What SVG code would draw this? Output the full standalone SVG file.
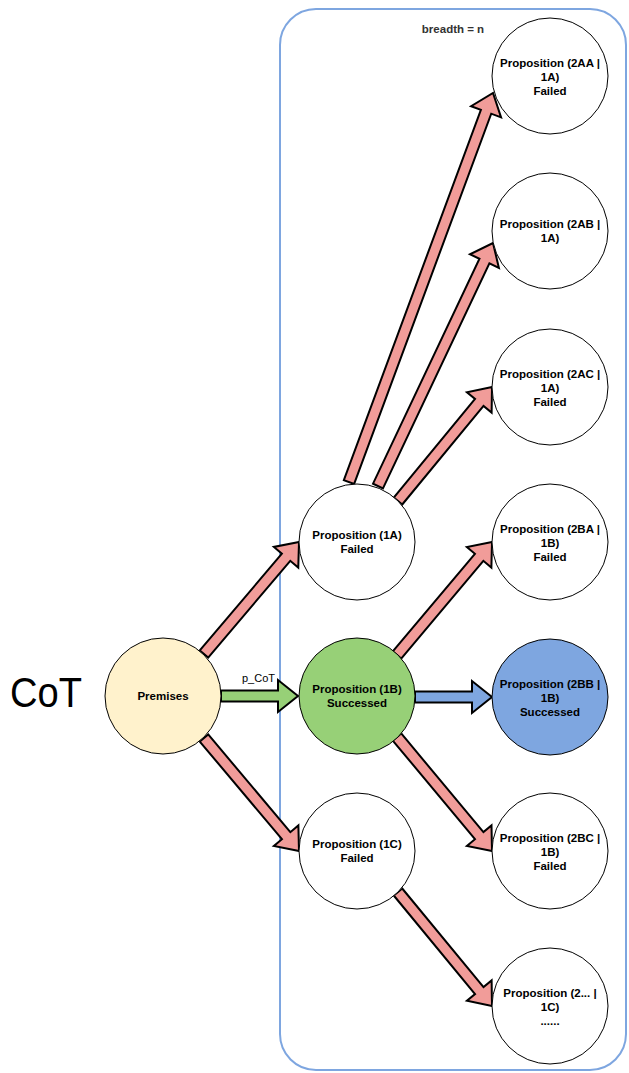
<svg xmlns="http://www.w3.org/2000/svg" width="629" height="1073" viewBox="0 0 629 1073">
  <style>
    .node { stroke: #000; stroke-width: 1; }
    .plain { fill: #ffffff; }
    .premise { fill: #fff2cc; }
    .ok { fill: #97d077; }
    .best { fill: #7ea6e0; }
    .label { font-family: "Liberation Sans", Arial, Helvetica, sans-serif; font-weight: bold; font-size: 11.5px; fill: #000; text-anchor: middle; }
    .arrow { stroke: #000; stroke-width: 2; stroke-linejoin: miter; }
    .fail { fill: #f19c99; }
    .pass { fill: #97d077; }
    .win { fill: #7ea6e0; }
  </style>

  <!-- search frame -->
  <g id="frame">
    <rect x="280" y="9" width="346" height="1061" rx="36" ry="36" fill="none" stroke="#7ea6e0" stroke-width="2"/>
    <text x="453" y="33" font-family="'Liberation Sans', Arial, sans-serif" font-weight="bold" font-size="11.5" fill="#333" text-anchor="middle">breadth = n</text>
  </g>

  <!-- title -->
  <text id="title" x="10" y="707" font-family="'Liberation Sans', Arial, sans-serif" font-size="42" fill="#000" textLength="72" lengthAdjust="spacingAndGlyphs">CoT</text>

  <!-- block arrows -->
  <g id="connectors">
    <polygon class="arrow pass" points="221,701.5 278,701.5 278,712 298,696 278,680 278,690.5 221,690.5"/>
    <text x="242" y="682" font-family="'Liberation Sans', Arial, sans-serif" font-size="11" fill="#000">p_CoT</text>
    <polygon class="arrow win" points="415,702.5 472,702.5 472,713 492,697 472,681 472,691.5 415,691.5"/>
    <polygon class="arrow fail" points="208.19,657.56 290.26,560.81 298.27,567.60 299,542 273.87,546.90 281.88,553.69 199.81,650.44"/>
    <polygon class="arrow fail" points="199.79,741.54 281.92,839.23 273.88,845.99 299,851 298.38,825.39 290.34,832.15 208.21,734.46"/>
    <polygon class="arrow fail" points="354.16,483.91 491.22,113.67 501.06,117.32 493,93 471.06,106.20 480.90,109.85 343.84,480.09"/>
    <polygon class="arrow fail" points="382.97,488.35 489.41,263.43 498.90,267.92 493,243 469.98,254.24 479.47,258.73 373.03,483.65"/>
    <polygon class="arrow fail" points="402.24,504.50 483.52,405.93 491.62,412.61 492,387 466.94,392.25 475.04,398.93 393.76,497.50"/>
    <polygon class="arrow fail" points="401.21,658.54 483.34,560.85 491.38,567.61 492,542 466.88,547.01 474.92,553.77 392.79,651.46"/>
    <polygon class="arrow fail" points="392.77,740.52 474.97,839.16 466.91,845.88 492,851 491.49,825.40 483.43,832.12 401.23,733.48"/>
    <polygon class="arrow fail" points="393.76,895.50 475.04,994.07 466.94,1000.75 492,1006 491.62,980.39 483.52,987.07 402.24,888.50"/>
  </g>

  <g id="premises">
    <circle class="node premise" cx="163" cy="696" r="58"/>
    <text class="label" x="163" y="700" font-size="9.5">Premises</text>
  </g>

  <g id="p1a">
    <circle class="node plain" cx="357" cy="542" r="58"/>
    <text class="label" x="357" y="539">Proposition (1A)</text>
    <text class="label" x="357" y="553">Failed</text>
  </g>
  <g id="p1b">
    <circle class="node ok" cx="357" cy="696" r="58"/>
    <text class="label" x="357" y="693">Proposition (1B)</text>
    <text class="label" x="357" y="707">Successed</text>
  </g>
  <g id="p1c">
    <circle class="node plain" cx="357" cy="851" r="58"/>
    <text class="label" x="357" y="848">Proposition (1C)</text>
    <text class="label" x="357" y="862">Failed</text>
  </g>

  <g id="p2aa">
    <circle class="node plain" cx="550" cy="76" r="58"/>
    <text class="label" x="550" y="67">Proposition (2AA |</text>
    <text class="label" x="550" y="81">1A)</text>
    <text class="label" x="550" y="95">Failed</text>
  </g>
  <g id="p2ab">
    <circle class="node plain" cx="550" cy="231" r="58"/>
    <text class="label" x="550" y="228">Proposition (2AB |</text>
    <text class="label" x="550" y="242">1A)</text>
  </g>
  <g id="p2ac">
    <circle class="node plain" cx="550" cy="387" r="58"/>
    <text class="label" x="550" y="378">Proposition (2AC |</text>
    <text class="label" x="550" y="392">1A)</text>
    <text class="label" x="550" y="406">Failed</text>
  </g>
  <g id="p2ba">
    <circle class="node plain" cx="550" cy="542" r="58"/>
    <text class="label" x="550" y="533">Proposition (2BA |</text>
    <text class="label" x="550" y="547">1B)</text>
    <text class="label" x="550" y="561">Failed</text>
  </g>
  <g id="p2bb">
    <circle class="node best" cx="550" cy="697" r="58"/>
    <text class="label" x="550" y="688">Proposition (2BB |</text>
    <text class="label" x="550" y="702">1B)</text>
    <text class="label" x="550" y="716">Successed</text>
  </g>
  <g id="p2bc">
    <circle class="node plain" cx="550" cy="851" r="58"/>
    <text class="label" x="550" y="842">Proposition (2BC |</text>
    <text class="label" x="550" y="856">1B)</text>
    <text class="label" x="550" y="870">Failed</text>
  </g>
  <g id="p2c">
    <circle class="node plain" cx="550" cy="1006" r="58"/>
    <text class="label" x="550" y="997">Proposition (2... |</text>
    <text class="label" x="550" y="1011">1C)</text>
    <text class="label" x="550" y="1025">......</text>
  </g>
</svg>
